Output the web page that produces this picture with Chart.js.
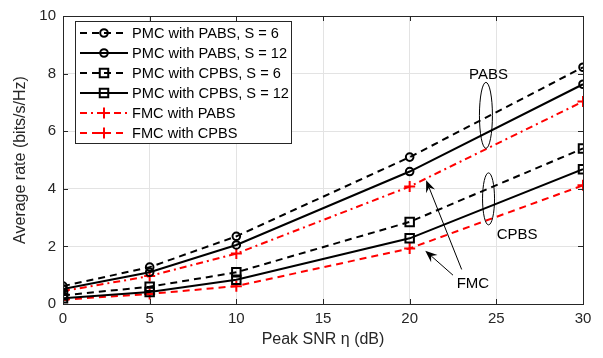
<!DOCTYPE html>
<html>
<head>
<meta charset="utf-8">
<script src="https://cdn.jsdelivr.net/npm/chart.js@4"></script>
<style>
  html, body { margin: 0; padding: 0; background: #fff; }
  #wrap { width: 603px; height: 358px; position: relative; }
</style>
</head>
<body>
<div id="wrap"><canvas id="myChart" width="603" height="358"></canvas></div>
<script>
"use strict";

//////////////////////////////
// Data
const snr = [0, 5, 10, 20, 30];
const pabsS6 = [0.62, 1.28, 2.35, 5.1, 8.22];
const pabsS12 = [0.52, 1.1, 2.05, 4.6, 7.63];
const cpbsS6 = [0.3, 0.6, 1.1, 2.85, 5.4];
const cpbsS12 = [0.2, 0.42, 0.84, 2.28, 4.68];
const fmcPabs = [0.45, 0.97, 1.75, 4.08, 7.03];
const fmcCpbs = [0.15, 0.35, 0.62, 1.93, 4.12];

const xTicks = [0, 5, 10, 15, 20, 25, 30];
const yTicks = [0, 2, 4, 6, 8, 10];

const seriesNames = [
  "PMC with PABS, S = 6",
  "PMC with PABS, S = 12",
  "PMC with CPBS, S = 6",
  "PMC with CPBS, S = 12",
  "FMC with PABS",
  "FMC with CPBS",
];

//////////////////////////////
// Styles
const FONT = "'Liberation Sans', Arial, Helvetica, sans-serif";
const AXIS_COLOR = "#262626";
const DASH = [7, 5];
const DASH_DOT = [7, 4, 2, 4];

const toPoints = (ys) => snr.map((x, i) => ({ x: x, y: ys[i] }));

const makeSet = function (label, ys, color, dash, pointStyle, radius) {
  return {
    label: label,
    data: toPoints(ys),
    borderColor: color,
    backgroundColor: "rgba(0,0,0,0)",
    borderWidth: 2,
    borderDash: dash,
    pointStyle: pointStyle,
    pointRadius: radius,
    pointBorderWidth: 2,
    pointBorderColor: color,
    pointBackgroundColor: "rgba(0,0,0,0)",
    tension: 0,
  };
};

const datasets = [
  makeSet(seriesNames[0], pabsS6, "#000", DASH, "circle", 3.8),
  makeSet(seriesNames[1], pabsS12, "#000", [], "circle", 3.8),
  makeSet(seriesNames[2], cpbsS6, "#000", DASH, "rect", 6),
  makeSet(seriesNames[3], cpbsS12, "#000", [], "rect", 6),
  makeSet(seriesNames[4], fmcPabs, "#ff0000", DASH_DOT, "cross", 5.5),
  makeSet(seriesNames[5], fmcCpbs, "#ff0000", DASH, "cross", 5.5),
];

//////////////////////////////
// Helpers for the overlay
const drawArrow = function (ctx, x1, y1, x2, y2) {
  const ang = Math.atan2(y2 - y1, x2 - x1);
  const len = 13;
  const half = 0.38;
  ctx.beginPath();
  ctx.moveTo(x1, y1);
  ctx.lineTo(x2 - Math.cos(ang) * len * 0.6, y2 - Math.sin(ang) * len * 0.6);
  ctx.stroke();
  ctx.beginPath();
  ctx.moveTo(x2, y2);
  ctx.lineTo(x2 - len * Math.cos(ang - half), y2 - len * Math.sin(ang - half));
  ctx.lineTo(x2 - len * 0.6 * Math.cos(ang), y2 - len * 0.6 * Math.sin(ang));
  ctx.lineTo(x2 - len * Math.cos(ang + half), y2 - len * Math.sin(ang + half));
  ctx.closePath();
  ctx.fill();
};

const drawMarker = function (ctx, style, x, y, r) {
  ctx.beginPath();
  if (style === "circle") {
    ctx.arc(x, y, r, 0, Math.PI * 2);
  } else if (style === "rect") {
    const s = r * Math.SQRT1_2 * 2;
    ctx.rect(x - s / 2, y - s / 2, s, s);
  } else {
    ctx.moveTo(x - r, y);
    ctx.lineTo(x + r, y);
    ctx.moveTo(x, y - r);
    ctx.lineTo(x, y + r);
  }
  ctx.stroke();
};

const overlay = {
  id: "overlay",
  afterDraw(chart) {
    const ctx = chart.ctx;
    const { left, right, top, bottom } = chart.chartArea;
    const xs = chart.scales.x;
    const ys = chart.scales.y;

    ctx.save();
    // box and inward ticks
    ctx.strokeStyle = AXIS_COLOR;
    ctx.lineWidth = 1;
    ctx.setLineDash([]);
    ctx.strokeRect(left + 0.5, top + 0.5, right - left, bottom - top);
    ctx.beginPath();
    xTicks.forEach((t) => {
      const px = Math.round(xs.getPixelForValue(t)) + 0.5;
      ctx.moveTo(px, bottom);
      ctx.lineTo(px, bottom - 5);
      ctx.moveTo(px, top);
      ctx.lineTo(px, top + 5);
    });
    yTicks.forEach((t) => {
      const py = Math.round(ys.getPixelForValue(t)) + 0.5;
      ctx.moveTo(left, py);
      ctx.lineTo(left + 5, py);
      ctx.moveTo(right, py);
      ctx.lineTo(right - 5, py);
    });
    ctx.stroke();

    // ellipses and labels
    ctx.strokeStyle = "#000";
    ctx.fillStyle = "#000";
    ctx.lineWidth = 1;
    ctx.beginPath();
    ctx.ellipse(xs.getPixelForValue(24.4), ys.getPixelForValue(6.55), 6.5, 33, 0, 0, Math.PI * 2);
    ctx.stroke();
    ctx.beginPath();
    ctx.ellipse(xs.getPixelForValue(24.55), ys.getPixelForValue(3.65), 6, 26, 0, 0, Math.PI * 2);
    ctx.stroke();

    ctx.font = "15px " + FONT;
    ctx.textAlign = "center";
    ctx.textBaseline = "middle";
    ctx.fillText("PABS", xs.getPixelForValue(24.55), ys.getPixelForValue(7.95));
    ctx.fillText("CPBS", xs.getPixelForValue(26.2), ys.getPixelForValue(2.4));
    ctx.fillText("FMC", xs.getPixelForValue(23.65), ys.getPixelForValue(0.7));

    drawArrow(ctx, xs.getPixelForValue(23.0), ys.getPixelForValue(1.2),
      xs.getPixelForValue(20.95), ys.getPixelForValue(4.3));
    drawArrow(ctx, xs.getPixelForValue(22.5), ys.getPixelForValue(1.0),
      xs.getPixelForValue(20.9), ys.getPixelForValue(1.85));

    // legend
    const lx = 75, ly = 21, lw = 216, lh = 122;
    ctx.fillStyle = "#fff";
    ctx.fillRect(lx, ly, lw, lh);
    ctx.strokeStyle = AXIS_COLOR;
    ctx.strokeRect(lx + 0.5, ly + 0.5, lw, lh);
    ctx.textAlign = "left";
    ctx.font = "14.6px " + FONT;
    chart.data.datasets.forEach((ds, i) => {
      const y = ly + 12 + i * 20;
      ctx.strokeStyle = ds.borderColor;
      ctx.lineWidth = 2;
      ctx.setLineDash(ds.borderDash);
      ctx.beginPath();
      ctx.moveTo(lx + 5, y);
      ctx.lineTo(lx + 53, y);
      ctx.stroke();
      ctx.setLineDash([]);
      drawMarker(ctx, ds.pointStyle, lx + 29, y, ds.pointRadius);
      ctx.fillStyle = "#000";
      ctx.fillText(ds.label, lx + 57, y + 1);
    });
    ctx.restore();
  },
};

//////////////////////////////
// Chart
const canvas = document.getElementById("myChart");
const chart = new Chart(canvas.getContext("2d"), {
  type: "line",
  data: { datasets: datasets },
  options: {
    responsive: false,
    animation: false,
    layout: { padding: { top: 9, right: 20, left: 0, bottom: 0 } },
    plugins: {
      legend: { display: false },
      tooltip: { enabled: false },
    },
    scales: {
      x: {
        type: "linear",
        min: 0,
        max: 30,
        afterBuildTicks: (s) => { s.ticks = xTicks.map((v) => ({ value: v })); },
        afterFit: (s) => { s.height = 54; },
        grid: { color: "#e3e3e3", drawTicks: false },
        border: { display: false },
        ticks: { color: AXIS_COLOR, font: { family: FONT, size: 15 }, padding: 6, maxRotation: 0 },
        title: {
          display: true,
          text: "Peak SNR η (dB)",
          color: AXIS_COLOR,
          font: { family: FONT, size: 16 },
          padding: { top: 0, bottom: 9 },
        },
      },
      y: {
        type: "linear",
        min: 0,
        max: 10,
        afterBuildTicks: (s) => { s.ticks = yTicks.map((v) => ({ value: v })); },
        afterFit: (s) => { s.width = 63; },
        grid: { color: "#e3e3e3", drawTicks: false },
        border: { display: false },
        ticks: { color: AXIS_COLOR, font: { family: FONT, size: 15 }, padding: 7 },
        title: {
          display: true,
          text: "Average rate (bits/s/Hz)",
          color: AXIS_COLOR,
          font: { family: FONT, size: 16 },
          padding: { top: 11, bottom: 0 },
        },
      },
    },
  },
  plugins: [overlay],
});
</script>
</body>
</html>
